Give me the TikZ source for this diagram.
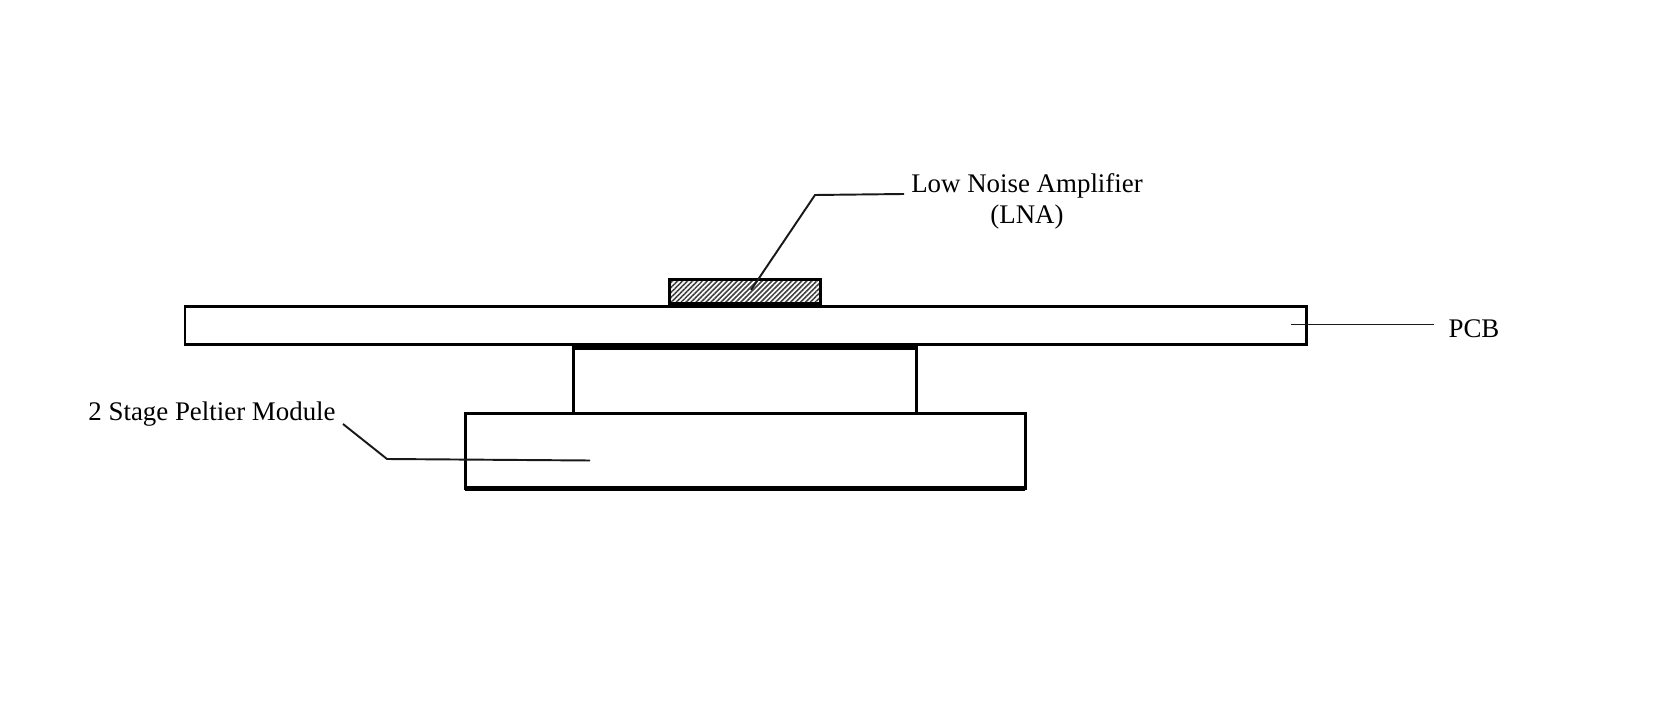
\documentclass[tikz,border=0pt]{standalone}
\usepackage{fontspec}
\setmainfont{Liberation Serif}
\usetikzlibrary{patterns.meta}

\begin{document}
\begin{tikzpicture}[every node/.style={font=\fontsize{7.65}{8.8}\selectfont,align=center},
  block/.style={rectangle,draw=black,line width=0.85pt,fill=white,inner sep=0pt,outer sep=0pt},
  chip/.style={block,pattern={Lines[angle=45,distance=1pt,line width=0.45pt]},pattern color=black!75},
  heavy/.style={draw=black,line width=1.4pt},
  lead/.style={draw=black!90,line width=0.55pt}]
  \useasboundingbox (0,0) rectangle (16.72,7.10);
  \node[block,minimum width=5.6cm,minimum height=7.5mm] (peltier) at (7.45,2.59) {};
  \node[block,minimum width=3.43cm,minimum height=6.6mm] (stage) at (7.45,3.295) {};
  \node[block,minimum width=11.21cm,minimum height=3.8mm] (pcb) at (7.455,3.845) {};
  \node[chip,minimum width=1.51cm,minimum height=2.5mm] (lna) at (7.45,4.18) {};
  \draw[heavy] (peltier.south west)--(peltier.south east);
  \draw[heavy] (stage.north west)--(stage.north east);
  \draw[heavy] (lna.south west)--(lna.south east);
  \node (lnatext) at (10.27,5.09) {Low Noise Amplifier\\(LNA)};
  \node (pcbtext) at (14.74,3.81) {PCB};
  \node (peltiertext) at (2.12,2.955) {2 Stage Peltier Module};
  \coordinate (lnaend) at (7.51,4.20);
  \coordinate (lnabend) at (8.15,5.15);
  \coordinate (lnastart) at (9.04,5.16);
  \coordinate (pcbend) at (12.91,3.855);
  \coordinate (pcbstart) at (14.34,3.855);
  \coordinate (peltierstart) at (3.43,2.86);
  \coordinate (peltierbend) at (3.87,2.51);
  \coordinate (peltierend) at (5.90,2.495);
  \draw[lead] (lnastart)--(lnabend)--(lnaend);
  \draw[lead] (pcbstart)--(pcbend);
  \draw[lead] (peltierstart)--(peltierbend)--(peltierend);
\end{tikzpicture}
\end{document}
